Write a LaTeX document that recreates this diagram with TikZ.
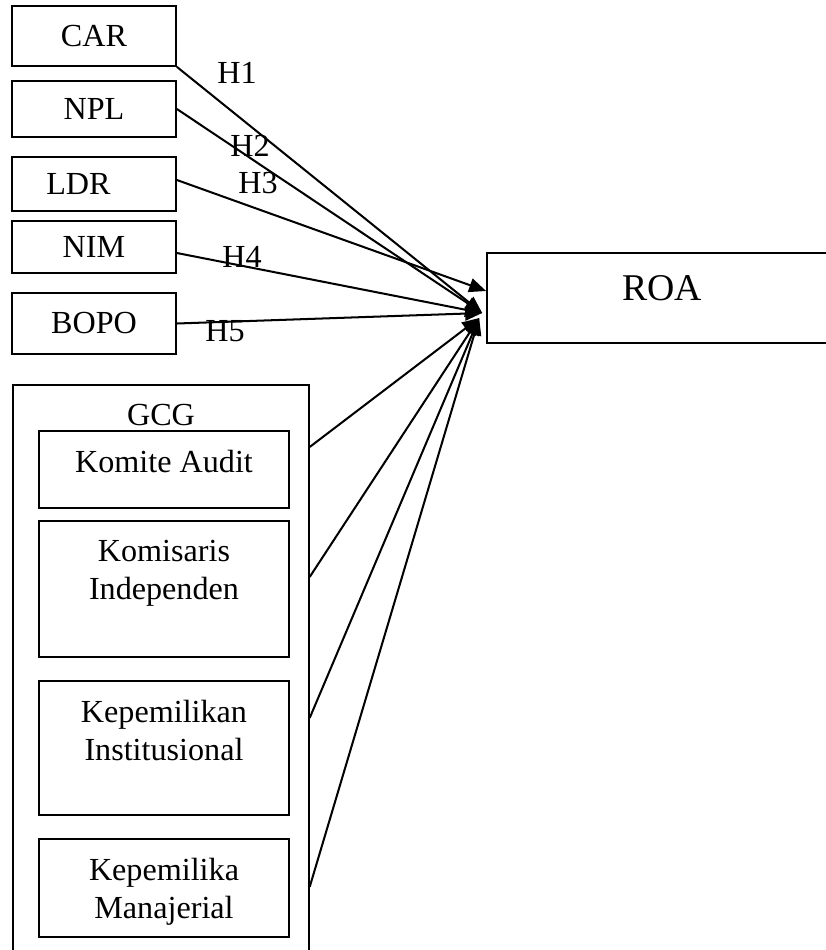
\documentclass[tikz,border=0pt]{standalone}
\usepackage{fontspec}
\setmainfont{Liberation Serif}
\usepackage{tikz}
\usetikzlibrary{arrows.meta}

\tikzset{
	varbox/.style={draw, line width=1pt, inner sep=0pt, font=\fontsize{18.3}{21.3}\selectfont},
	vartext/.style={inner sep=0pt, align=center, font=\fontsize{18.3}{21.3}\selectfont},
	hyp/.style={line width=1.15pt, -{Triangle[length=0.34cm,width=0.28cm]}},
}

\begin{document}
\begin{tikzpicture}[x=0.02cm, y=-0.02cm]
		\useasboundingbox (0,0) rectangle (825,950);
		% independent variables
		\node[varbox, minimum width=3.28cm, minimum height=1.2cm] (car) at (94,36) {CAR};
		\node[varbox, minimum width=3.28cm, minimum height=1.12cm] (npl) at (94,109) {NPL};
		\node[varbox, minimum width=3.28cm, minimum height=1.08cm] (ldr) at (94,184) {LDR\kern0.62cm};
		\node[varbox, minimum width=3.28cm, minimum height=1.04cm] (nim) at (94,247) {NIM};
		\node[varbox, minimum width=3.28cm, minimum height=1.22cm] (bopo) at (94,323.5) {BOPO};
		% dependent variable
		\node[varbox, minimum width=7cm, minimum height=1.8cm, text depth=0.4cm, font=\fontsize{21.5}{24}\selectfont] (roa) at (662,298) {ROA};
		\coordinate (hub) at ([xshift=-0.08cm, yshift=-0.3cm]roa.west);
		\coordinate (hubg) at ([xshift=-0.14cm, yshift=-0.4cm]roa.west);
		% GCG group
		\node[varbox, anchor=north west, minimum width=5.92cm, minimum height=11.6cm] (gcg) at (12,384) {};
		\node[vartext] (gcgt) at (161,415) {GCG};
		\node[varbox, minimum width=5cm, minimum height=1.54cm] (ka) at (164,469.5) {};
		\node[vartext, anchor=north] (kat) at ([yshift=-0.4cm]ka.north) {Komite Audit};
		\node[varbox, minimum width=5cm, minimum height=2.72cm] (ki) at (164,589) {};
		\node[vartext, anchor=north] (kit) at ([yshift=-0.4cm]ki.north) {Komisaris\\Independen};
		\node[varbox, minimum width=5cm, minimum height=2.68cm] (kpi) at (164,748) {};
		\node[vartext, anchor=north] (kpit) at ([yshift=-0.4cm]kpi.north) {Kepemilikan\\Institusional};
		\node[varbox, minimum width=5cm, minimum height=1.96cm] (kpm) at (164,888) {};
		\node[vartext, anchor=north] (kpmt) at ([yshift=-0.4cm]kpm.north) {Kepemilika\\Manajerial};
		% hypotheses
		\draw[hyp] (car.south east) -- (hub);
		\draw[hyp] (npl.east) -- (hub);
		\draw[hyp] ([yshift=0.08cm]ldr.east) -- ([yshift=0.14cm]roa.west);
		\draw[hyp] ([yshift=-0.12cm]nim.east) -- (hub);
		\draw[hyp] (bopo.east) -- (hub);
		\foreach \dy in {1.26,3.86,6.68,10.06}
			\draw[hyp] ([yshift=-\dy cm]gcg.north east) -- (hubg);
		\node[vartext] (h1) at (237,73) {H1};
		\node[vartext] (h2) at (250,146) {H2};
		\node[vartext] (h3) at (258,183) {H3};
		\node[vartext] (h4) at (242,257) {H4};
		\node[vartext] (h5) at (225,331) {H5};
	\end{tikzpicture}
\end{document}
